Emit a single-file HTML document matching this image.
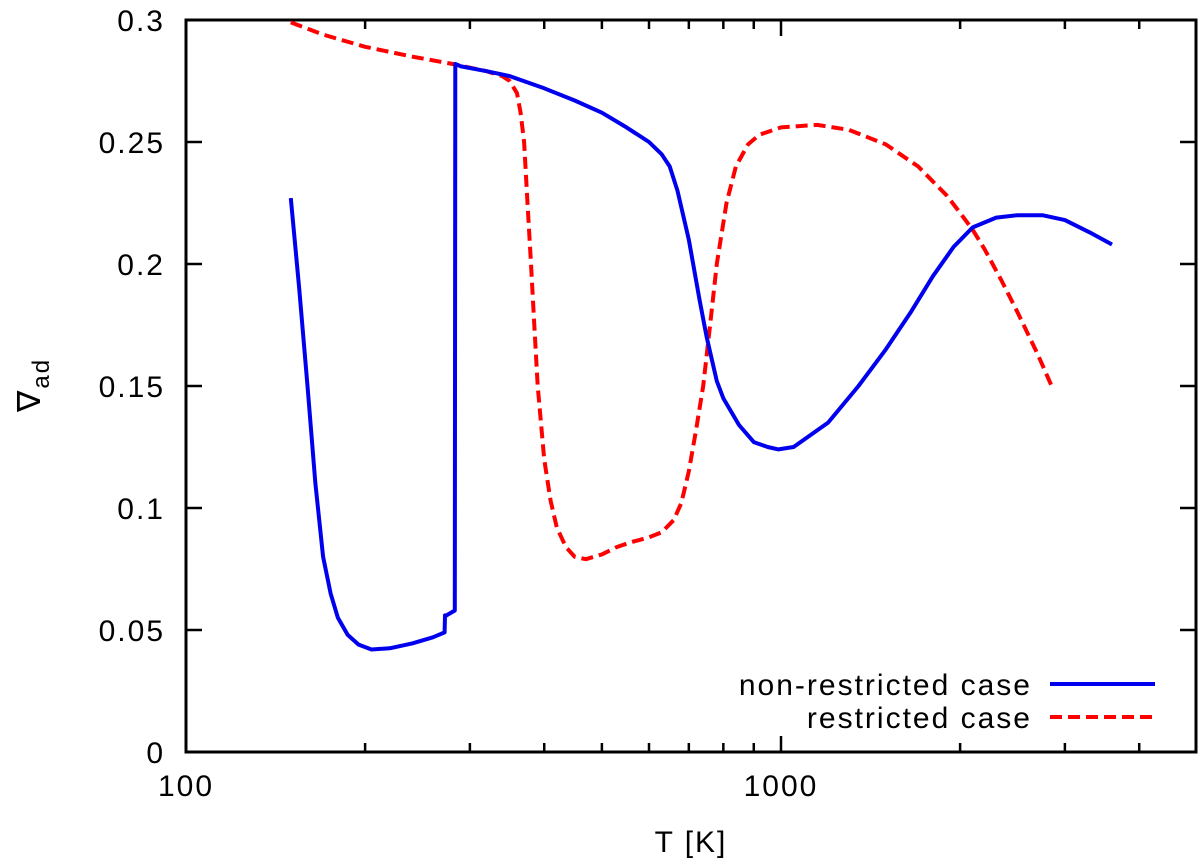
<!DOCTYPE html>
<html><head><meta charset="utf-8"><style>
html,body{margin:0;padding:0;background:#fff;}
svg{display:block;font-family:"Liberation Sans",sans-serif;}
text{letter-spacing:2px;}
</style></head><body>
<svg id="chart" width="1200" height="860" xmlns="http://www.w3.org/2000/svg">
<g id="axes"></g>
<g id="series"></g>
<g id="legend"></g>
</svg>
<script>
const yTicks = [0, 0.05, 0.1, 0.15, 0.2, 0.25, 0.3];
const yTickLabels = ["0", "0.05", "0.1", "0.15", "0.2", "0.25", "0.3"];
const xMajor = [100, 1000];
const xMajorLabels = ["100", "1000"];
const xMinor = [200,300,400,500,600,700,800,900,2000,3000,4000];
const blueT = [150,155,160,165,170,175,180,187,195,205,220,240,260,272,272.5,274,283,283.5,290,320,350,400,450,500,550,600,630,650,670,700,730,750,780,800,850,900,950,990,1050,1200,1350,1500,1650,1800,1950,2100,2300,2500,2750,3000,3300,3600];
const blueV = [0.227,0.19,0.15,0.11,0.08,0.065,0.055,0.048,0.044,0.042,0.0425,0.0445,0.047,0.049,0.056,0.056,0.058,0.282,0.281,0.279,0.277,0.272,0.267,0.262,0.256,0.25,0.245,0.24,0.23,0.21,0.185,0.17,0.152,0.145,0.134,0.127,0.125,0.124,0.125,0.135,0.15,0.165,0.18,0.195,0.207,0.215,0.219,0.22,0.22,0.218,0.213,0.208];
const redT = [150,170,200,240,280,320,340,350,360,365,370,375,380,385,390,400,410,420,435,450,470,500,530,560,600,630,660,680,700,720,740,760,780,810,840,880,920,1000,1150,1300,1500,1700,1900,2000,2100,2200,2350,2500,2700,2850];
const redV = [0.299,0.294,0.289,0.285,0.282,0.279,0.277,0.275,0.27,0.262,0.25,0.225,0.2,0.175,0.15,0.12,0.103,0.092,0.084,0.08,0.079,0.081,0.084,0.086,0.088,0.09,0.095,0.102,0.115,0.132,0.15,0.175,0.2,0.225,0.24,0.249,0.253,0.256,0.257,0.255,0.249,0.24,0.228,0.221,0.214,0.206,0.193,0.18,0.163,0.15];

const L=186, R=1196, T=20, B=752, DEC=595;
const xs = v => L + Math.log10(v/100)*DEC;
const ys = v => B - v/0.3*(B-T);
const NS="http://www.w3.org/2000/svg";
function mk(tag, attrs, parent, text){const e=document.createElementNS(NS,tag);for(const k in attrs)e.setAttribute(k,attrs[k]);if(text!==undefined)e.textContent=text;parent.appendChild(e);return e;}
const ax=document.getElementById('axes');
const frame=mk('rect',{x:L,y:T,width:R-L,height:B-T,fill:'none',stroke:'#000','stroke-width':3},ax);


yTicks.forEach((v,i)=>{
  const y=ys(v);
  const t1=mk('line',{x1:L,x2:L+16,y1:y,y2:y,stroke:'#000','stroke-width':2.5},ax);
  
  
  const t2=mk('line',{x1:R-16,x2:R,y1:y,y2:y,stroke:'#000','stroke-width':2.5},ax);
  
  
  const lb=mk('text',{x:L-21,y:y+11,'text-anchor':'end','font-size':30},ax,yTickLabels[i]);
  
  
});
xMajor.forEach((v,i)=>{
  const x=xs(v);
  const t1=mk('line',{x1:x,x2:x,y1:B,y2:B-16,stroke:'#000','stroke-width':2.5},ax);
  
  
  const t2=mk('line',{x1:x,x2:x,y1:T,y2:T+16,stroke:'#000','stroke-width':2.5},ax);
  
  
  const lb=mk('text',{x:x,y:B+44,'text-anchor':'middle','font-size':30},ax,xMajorLabels[i]);
  
  
});
xMinor.forEach(v=>{
  const x=xs(v);
  const t1=mk('line',{x1:x,x2:x,y1:B,y2:B-9,stroke:'#000','stroke-width':2.5},ax);
  
  
  const t2=mk('line',{x1:x,x2:x,y1:T,y2:T+9,stroke:'#000','stroke-width':2.5},ax);
  
  
});
const xt=mk('text',{x:(L+R)/2,y:852,'text-anchor':'middle','font-size':30},ax,'T [K]');


const yt=mk('text',{transform:'translate(40,385) rotate(-90)','text-anchor':'middle','font-size':32},ax);


mk('tspan',{},yt,'∇');
mk('tspan',{dy:9,'font-size':24},yt,'ad');

const sg=document.getElementById('series');
function path(Ts,Vs){return Ts.map((t,i)=>(i?'L':'M')+xs(t).toFixed(1)+','+ys(Vs[i]).toFixed(1)).join(' ');}
const rp=mk('path',{d:path(redT,redV),fill:'none',stroke:'#ff0000','stroke-width':4,'stroke-dasharray':'12,6','stroke-linejoin':'round'},sg);


const bp=mk('path',{d:path(blueT,blueV),fill:'none',stroke:'#0000ee','stroke-width':4,'stroke-linejoin':'round'},sg);



const lg=document.getElementById('legend');
const l1=mk('text',{x:1032,y:695,'text-anchor':'end','font-size':30},lg,'non-restricted case');


const s1=mk('line',{x1:1050,x2:1155,y1:684,y2:684,stroke:'#0000ee','stroke-width':4},lg);


const l2=mk('text',{x:1032,y:728,'text-anchor':'end','font-size':30},lg,'restricted case');


const s2=mk('line',{x1:1050,x2:1155,y1:717,y2:717,stroke:'#ff0000','stroke-width':4,'stroke-dasharray':'12,6'},lg);


</script>
</body></html>
